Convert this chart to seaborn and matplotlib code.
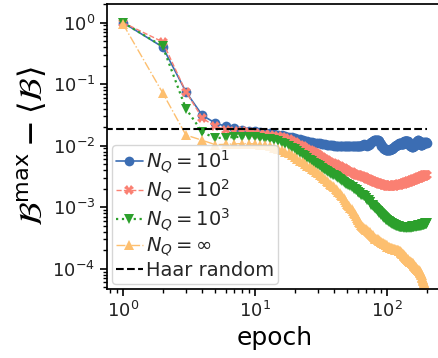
import numpy as np
import matplotlib
matplotlib.use("Agg")
import matplotlib.pyplot as plt
import seaborn as sns

epochs = list(range(1, 201))

nq_10 = [
    1.0, 0.40, 0.075, 0.031, 0.0234, 0.0206, 0.0192, 0.0183, 0.0176, 0.0171,
    0.0166, 0.0162, 0.0158, 0.0153, 0.0150, 0.0147, 0.0143, 0.0140, 0.0137, 0.0134,
    0.0130, 0.0126, 0.0123, 0.0120, 0.0118, 0.0116, 0.0114, 0.0112, 0.0111, 0.0110,
    0.0109, 0.0107, 0.0106, 0.0105, 0.0104, 0.0103, 0.0102, 0.0101, 0.0101, 0.0100,
    0.0100, 0.0099, 0.0099, 0.0098, 0.0098, 0.0098, 0.0097, 0.0097, 0.0098, 0.0098,
    0.0098, 0.0099, 0.0099, 0.0098, 0.0098, 0.0097, 0.0098, 0.0099, 0.0099, 0.0098,
    0.0098, 0.0098, 0.0099, 0.0100, 0.0102, 0.0104, 0.0105, 0.0104, 0.0102, 0.0101,
    0.0100, 0.0102, 0.0104, 0.0107, 0.0110, 0.0113, 0.0116, 0.0118, 0.0120, 0.0122,
    0.0123, 0.0124, 0.0125, 0.0125, 0.0125, 0.0124, 0.0121, 0.0117, 0.0112, 0.0106,
    0.0100, 0.0097, 0.0094, 0.0092, 0.0090, 0.0088, 0.0087, 0.0086, 0.0086, 0.0086,
    0.0086, 0.0086, 0.0086, 0.0086, 0.0086, 0.0087, 0.0087, 0.0087, 0.0088, 0.0089,
    0.0090, 0.0092, 0.0094, 0.0096, 0.0098, 0.0099, 0.0100, 0.0101, 0.0102, 0.0103,
    0.0104, 0.0106, 0.0108, 0.0110, 0.0111, 0.0111, 0.0110, 0.0108, 0.0106, 0.0105,
    0.0105, 0.0106, 0.0108, 0.0111, 0.0114, 0.0117, 0.0119, 0.0120, 0.0121, 0.0121,
    0.0121, 0.0120, 0.0119, 0.0118, 0.0116, 0.0113, 0.0110, 0.0107, 0.0104, 0.0102,
    0.0100, 0.0099, 0.0098, 0.0097, 0.0096, 0.0096, 0.0096, 0.0097, 0.0098, 0.0099,
    0.0100, 0.0101, 0.0102, 0.0104, 0.0107, 0.0110, 0.0113, 0.0116, 0.0118, 0.0120,
    0.0121, 0.0122, 0.0122, 0.0121, 0.0119, 0.0117, 0.0114, 0.0111, 0.0108, 0.0106,
    0.0104, 0.0103, 0.0103, 0.0104, 0.0106, 0.0108, 0.0110, 0.0112, 0.0113, 0.0113,
    0.0112, 0.0111, 0.0110, 0.0110, 0.0111, 0.0112, 0.0113, 0.0113, 0.0112, 0.0111,
]

nq_100 = [
    1.0, 0.485, 0.075, 0.028, 0.0205, 0.0183, 0.0176, 0.0171, 0.0166, 0.0161,
    0.0157, 0.0153, 0.0149, 0.0145, 0.0141, 0.0136, 0.0131, 0.0126, 0.0120, 0.0114,
    0.0108, 0.0102, 0.0097, 0.0093, 0.0089, 0.0085, 0.0082, 0.0078, 0.0075, 0.0072,
    0.0069, 0.0066, 0.0063, 0.0061, 0.0059, 0.0057, 0.0055, 0.0053, 0.0052, 0.0051,
    0.0050, 0.0049, 0.0047, 0.0046, 0.0045, 0.0044, 0.0043, 0.0042, 0.0041, 0.0040,
    0.0039, 0.0038, 0.0037, 0.0037, 0.0036, 0.0035, 0.0035, 0.0034, 0.0034, 0.0033,
    0.0033, 0.0033, 0.0032, 0.0032, 0.0032, 0.0031, 0.0031, 0.0031, 0.0030, 0.0030,
    0.0029, 0.0029, 0.0029, 0.0028, 0.0028, 0.0028, 0.0027, 0.0027, 0.0027, 0.0026,
    0.0026, 0.0026, 0.0026, 0.0025, 0.0025, 0.0025, 0.0025, 0.0024, 0.0024, 0.0024,
    0.0024, 0.0024, 0.0023, 0.0023, 0.0023, 0.0023, 0.0023, 0.0023, 0.0022, 0.0022,
    0.0022, 0.0022, 0.0022, 0.0022, 0.0023, 0.0023, 0.0022, 0.0022, 0.0022, 0.0022,
    0.0023, 0.0023, 0.0023, 0.0022, 0.0022, 0.0022, 0.0023, 0.0023, 0.0023, 0.0023,
    0.0023, 0.0024, 0.0024, 0.0023, 0.0023, 0.0023, 0.0024, 0.0024, 0.0024, 0.0024,
    0.0024, 0.0025, 0.0025, 0.0024, 0.0024, 0.0025, 0.0025, 0.0026, 0.0026, 0.0025,
    0.0025, 0.0025, 0.0026, 0.0026, 0.0027, 0.0027, 0.0026, 0.0026, 0.0026, 0.0027,
    0.0027, 0.0028, 0.0028, 0.0027, 0.0027, 0.0027, 0.0028, 0.0028, 0.0029, 0.0029,
    0.0028, 0.0028, 0.0028, 0.0029, 0.0029, 0.0030, 0.0029, 0.0029, 0.0029, 0.0030,
    0.0030, 0.0031, 0.0030, 0.0030, 0.0030, 0.0031, 0.0031, 0.0031, 0.0030, 0.0030,
    0.0031, 0.0032, 0.0032, 0.0031, 0.0031, 0.0032, 0.0032, 0.0033, 0.0032, 0.0032,
    0.0032, 0.0033, 0.0033, 0.0032, 0.0032, 0.0033, 0.0033, 0.0034, 0.0033, 0.0033,
]

nq_1000 = [
    1.0, 0.41, 0.040, 0.0165, 0.0133, 0.0135, 0.0138, 0.0139, 0.0138, 0.0136,
    0.0133, 0.0130, 0.0126, 0.0122, 0.0117, 0.0111, 0.0105, 0.0099, 0.0093, 0.0087,
    0.0081, 0.0076, 0.0071, 0.0067, 0.0063, 0.0059, 0.0056, 0.0053, 0.0050, 0.0048,
    0.0046, 0.0044, 0.0042, 0.0041, 0.0039, 0.0038, 0.0036, 0.0035, 0.0034, 0.0033,
    0.0032, 0.0031, 0.0030, 0.0029, 0.0028, 0.0027, 0.0026, 0.0025, 0.0024, 0.0024,
    0.0023, 0.0023, 0.0022, 0.0021, 0.0021, 0.0020, 0.0020, 0.0019, 0.0019, 0.0018,
    0.0018, 0.0017, 0.0017, 0.0016, 0.0016, 0.0016, 0.0015, 0.0015, 0.0014, 0.0014,
    0.0013, 0.0013, 0.0013, 0.0012, 0.0012, 0.0011, 0.0011, 0.0011, 0.00105, 0.0010,
    0.00098, 0.00096, 0.00093, 0.00091, 0.00088, 0.00086, 0.00084, 0.00082, 0.00080, 0.00078,
    0.00076, 0.00074, 0.00072, 0.00070, 0.00069, 0.00067, 0.00066, 0.00064, 0.00063, 0.00062,
    0.00061, 0.00060, 0.00059, 0.00058, 0.00057, 0.00057, 0.00056, 0.00055, 0.00055, 0.00054,
    0.00054, 0.00053, 0.00053, 0.00052, 0.00052, 0.00051, 0.00051, 0.00050, 0.00050, 0.00050,
    0.00049, 0.00049, 0.00049, 0.00048, 0.00048, 0.00048, 0.00048, 0.00047, 0.00047, 0.00047,
    0.00047, 0.00048, 0.00047, 0.00046, 0.00047, 0.00048, 0.00047, 0.00047, 0.00046, 0.00047,
    0.00048, 0.00047, 0.00046, 0.00047, 0.00048, 0.00048, 0.00047, 0.00046, 0.00047, 0.00048,
    0.00048, 0.00047, 0.00046, 0.00047, 0.00048, 0.00049, 0.00048, 0.00047, 0.00048, 0.00049,
    0.00049, 0.00048, 0.00049, 0.00050, 0.00049, 0.00048, 0.00049, 0.00050, 0.00050, 0.00049,
    0.00050, 0.00051, 0.00050, 0.00049, 0.00050, 0.00051, 0.00052, 0.00051, 0.00050, 0.00051,
    0.00052, 0.00051, 0.00050, 0.00051, 0.00052, 0.00053, 0.00052, 0.00051, 0.00052, 0.00053,
    0.00054, 0.00053, 0.00052, 0.00053, 0.00054, 0.00055, 0.00054, 0.00053, 0.00054, 0.00055,
]

nq_inf = [
    0.95, 0.072, 0.0149, 0.0122, 0.0104, 0.0105, 0.0107, 0.0108, 0.0108, 0.0107,
    0.0104, 0.0101, 0.0097, 0.0093, 0.0089, 0.0085, 0.0080, 0.0076, 0.0071, 0.0066,
    0.0061, 0.0057, 0.0054, 0.0050, 0.0047, 0.0045, 0.0042, 0.0040, 0.0038, 0.0036,
    0.0034, 0.0032, 0.0030, 0.0029, 0.0027, 0.0026, 0.0024, 0.0023, 0.0022, 0.0021,
    0.0020, 0.0019, 0.0018, 0.0017, 0.0016, 0.0015, 0.0014, 0.0013, 0.0012, 0.00115,
    0.00110, 0.00104, 0.00098, 0.00092, 0.00087, 0.00082, 0.00077, 0.00072, 0.00068, 0.00064,
    0.00061, 0.00058, 0.00055, 0.00052, 0.00050, 0.00048, 0.00046, 0.00045, 0.00044, 0.00043,
    0.00042, 0.00041, 0.00040, 0.00039, 0.00038, 0.00037, 0.00036, 0.00035, 0.00034, 0.00033,
    0.00032, 0.00031, 0.00031, 0.00030, 0.00030, 0.00029, 0.00029, 0.00028, 0.00028, 0.00027,
    0.00027, 0.00026, 0.00026, 0.00026, 0.00025, 0.00025, 0.00025, 0.00024, 0.00024, 0.00024,
    0.00023, 0.00023, 0.00023, 0.00023, 0.00022, 0.00022, 0.00022, 0.00022, 0.00022, 0.00021,
    0.00021, 0.00021, 0.00021, 0.00021, 0.00021, 0.00020, 0.00020, 0.00020, 0.00020, 0.00020,
    0.00020, 0.00020, 0.000198, 0.000196, 0.000194, 0.000192, 0.000189, 0.000186, 0.000183, 0.000180,
    0.000177, 0.000174, 0.000171, 0.000168, 0.000165, 0.000162, 0.000159, 0.000156, 0.000153, 0.000150,
    0.000148, 0.000146, 0.000144, 0.000142, 0.000140, 0.000138, 0.000136, 0.000134, 0.000132, 0.000130,
    0.000129, 0.000128, 0.000127, 0.000126, 0.000125, 0.000124, 0.000122, 0.000120, 0.000118, 0.000116,
    0.000114, 0.000112, 0.000110, 0.000108, 0.000106, 0.000104, 0.000102, 0.000100, 0.000099, 0.000098,
    0.000097, 0.000096, 0.000095, 0.000094, 0.000093, 0.000092, 0.000091, 0.000090, 0.000088, 0.000086,
    0.000084, 0.000082, 0.000080, 0.000078, 0.000075, 0.000072, 0.000069, 0.000066, 0.000063, 0.000060,
    0.000058, 0.000056, 0.000054, 0.000052, 0.000050, 0.000049, 0.000048, 0.000047, 0.000046, 0.000045,
]

haar_random = 0.0189
haar_x = [0.5, 200]

labels = [r"$N_Q = 10^1$", r"$N_Q = 10^2$", r"$N_Q = 10^3$", r"$N_Q = \infty$", "Haar random"]
colors = ["#3b6db3", "#fa8072", "#2ca02c", "#fdbf6f"]
markers = ["o", "X", "v", "^"]
linestyles = ["-", "--", ":", "-."]
linewidths = [1.2, 1.0, 1.6, 1.0]

sns.set_style("ticks")
plt.rcParams["font.family"] = ["DejaVu Sans"]
plt.rcParams["mathtext.fontset"] = "dejavusans"

fig = plt.figure(figsize=(4.38, 3.58), dpi=100)
W, H = 438, 358
ax = fig.add_axes([107 / W, (H - 289) / H, (442 - 107) / W, (289 - 4) / H])

series = [nq_10, nq_100, nq_1000, nq_inf]
for vals, lab, c, m, ls, lw in zip(series, labels[:4], colors, markers, linestyles, linewidths):
    sns.lineplot(x=epochs, y=vals, ax=ax, color=c, marker=m, linestyle=ls, linewidth=lw,
                 markersize=7, markeredgecolor=c, markeredgewidth=0, label=lab)

ax.set_xscale("log")
ax.set_yscale("log")
ax.set_xlim(0.757, 262)
ax.set_ylim(4.7e-5, 2.0)

sns.lineplot(x=haar_x, y=[haar_random, haar_random], ax=ax, color="black",
             linestyle="--", linewidth=1.5, label=labels[4])
ax.set_xlim(0.757, 262)

ax.set_xlabel("epoch", fontsize=18, color="black")
ax.set_ylabel(r"$\mathcal{B}^{\max} - \langle\mathcal{B}\rangle$", fontsize=23, labelpad=2,
              color="black")
ax.tick_params(axis="both", which="major", labelsize=13, length=5, width=1.2,
               color="black", labelcolor="#222222")
ax.tick_params(axis="both", which="minor", length=3, width=1.0, color="black")
for s in ax.spines.values():
    s.set_color("black")
    s.set_linewidth(1.25)

leg = ax.legend(loc="lower left", fontsize=14, labelspacing=0.15, borderpad=0.2,
                handlelength=1.4, handletextpad=0.15, borderaxespad=0.25, frameon=True)

fig.savefig("out.png", dpi=100)
